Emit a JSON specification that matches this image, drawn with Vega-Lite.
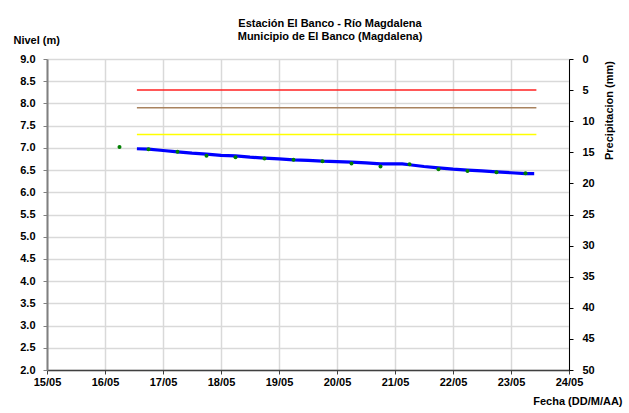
{
  "$schema": "https://vega.github.io/schema/vega-lite/v6.json",
  "width": 522,
  "height": 311,
  "autosize": {"type": "none"},
  "padding": {"left": 47, "top": 59, "right": 60, "bottom": 43},
  "background": "white",
  "config": {"font": "Liberation Sans", "view": {"stroke": null}},
  "title": {
    "text": ["Estación El Banco - Río Magdalena", "Municipio de El Banco (Magdalena)"],
    "font": "Liberation Sans",
    "fontSize": 11,
    "fontWeight": "bold",
    "color": "black",
    "anchor": "middle",
    "frame": "group",
    "dx": 22,
    "offset": -8,
    "lineHeight": 13
  },
  "datasets": {
    "nivel": [
      {"fecha": "2010-05-16T13:12", "nivel": 6.98},
      {"fecha": "2010-05-16T18:00", "nivel": 6.97},
      {"fecha": "2010-05-17T00:00", "nivel": 6.94},
      {"fecha": "2010-05-17T06:00", "nivel": 6.91},
      {"fecha": "2010-05-17T12:00", "nivel": 6.88},
      {"fecha": "2010-05-17T18:00", "nivel": 6.86},
      {"fecha": "2010-05-18T00:00", "nivel": 6.83},
      {"fecha": "2010-05-18T06:00", "nivel": 6.82},
      {"fecha": "2010-05-18T12:00", "nivel": 6.79},
      {"fecha": "2010-05-18T18:00", "nivel": 6.77},
      {"fecha": "2010-05-19T00:00", "nivel": 6.75},
      {"fecha": "2010-05-19T06:00", "nivel": 6.73},
      {"fecha": "2010-05-19T12:00", "nivel": 6.72},
      {"fecha": "2010-05-19T18:00", "nivel": 6.70},
      {"fecha": "2010-05-20T00:00", "nivel": 6.69},
      {"fecha": "2010-05-20T06:00", "nivel": 6.68},
      {"fecha": "2010-05-20T12:00", "nivel": 6.66},
      {"fecha": "2010-05-20T18:00", "nivel": 6.64},
      {"fecha": "2010-05-21T00:00", "nivel": 6.64},
      {"fecha": "2010-05-21T03:00", "nivel": 6.64},
      {"fecha": "2010-05-21T06:00", "nivel": 6.62},
      {"fecha": "2010-05-21T12:00", "nivel": 6.58},
      {"fecha": "2010-05-21T18:00", "nivel": 6.55},
      {"fecha": "2010-05-22T00:00", "nivel": 6.52},
      {"fecha": "2010-05-22T06:00", "nivel": 6.50},
      {"fecha": "2010-05-22T12:00", "nivel": 6.48},
      {"fecha": "2010-05-22T18:00", "nivel": 6.46},
      {"fecha": "2010-05-23T00:00", "nivel": 6.44},
      {"fecha": "2010-05-23T06:00", "nivel": 6.42},
      {"fecha": "2010-05-23T09:36", "nivel": 6.42}
    ],
    "observado": [
      {"fecha": "2010-05-16T06:00", "nivel": 7.02},
      {"fecha": "2010-05-16T18:00", "nivel": 6.97},
      {"fecha": "2010-05-17T06:00", "nivel": 6.91},
      {"fecha": "2010-05-17T18:00", "nivel": 6.82},
      {"fecha": "2010-05-18T06:00", "nivel": 6.79},
      {"fecha": "2010-05-18T18:00", "nivel": 6.76},
      {"fecha": "2010-05-19T06:00", "nivel": 6.73},
      {"fecha": "2010-05-19T18:00", "nivel": 6.70},
      {"fecha": "2010-05-20T06:00", "nivel": 6.65},
      {"fecha": "2010-05-20T18:00", "nivel": 6.58},
      {"fecha": "2010-05-21T06:00", "nivel": 6.63},
      {"fecha": "2010-05-21T18:00", "nivel": 6.52},
      {"fecha": "2010-05-22T06:00", "nivel": 6.48},
      {"fecha": "2010-05-22T18:00", "nivel": 6.45},
      {"fecha": "2010-05-23T06:00", "nivel": 6.43}
    ],
    "umbrales": [
      {"fecha": "2010-05-16T13:12", "fecha_fin": "2010-05-23T10:30", "nivel": 8.3, "umbral": "rojo"},
      {"fecha": "2010-05-16T13:12", "fecha_fin": "2010-05-23T10:30", "nivel": 7.9, "umbral": "naranja"},
      {"fecha": "2010-05-16T13:12", "fecha_fin": "2010-05-23T10:30", "nivel": 7.3, "umbral": "amarillo"}
    ],
    "precipitacion": []
  },
  "layer": [
    {
      "encoding": {
        "x": {
          "field": "fecha",
          "type": "temporal",
          "scale": {"domain": [{"year": 2010, "month": 5, "date": 15}, {"year": 2010, "month": 5, "date": 24}]},
          "axis": {
            "title": "Fecha (DD/M/AA)",
            "format": "%d/%m",
            "tickCount": {"interval": "day", "step": 1},
            "grid": true,
            "gridColor": "#d9d9d9",
            "gridWidth": 1.5,
            "domainColor": "#404040",
            "domainWidth": 1.5,
            "tickColor": "#404040",
            "tickSize": 4,
            "labelFont": "Liberation Sans",
            "labelFontSize": 11,
            "labelFontWeight": "bold",
            "labelColor": "black",
            "labelPadding": 2,
            "labelFlush": false,
            "labelOverlap": false,
            "titleFont": "Liberation Sans",
            "titleFontSize": 11,
            "titleFontWeight": "bold",
            "titleColor": "black",
            "titleAnchor": null,
            "titleAlign": "right",
            "titleBaseline": "middle",
            "titleX": 575,
            "titleY": 31
          }
        },
        "y": {
          "field": "nivel",
          "type": "quantitative",
          "scale": {"domain": [2, 9], "nice": false, "zero": false},
          "axis": {
            "orient": "left",
            "title": "Nivel (m)",
            "values": [2, 2.5, 3, 3.5, 4, 4.5, 5, 5.5, 6, 6.5, 7, 7.5, 8, 8.5, 9],
            "format": ".1f",
            "grid": true,
            "gridColor": "#d9d9d9",
            "gridWidth": 1.5,
            "domainColor": "#808080",
            "domainWidth": 2,
            "tickColor": "#808080",
            "tickSize": 4,
            "labelFont": "Liberation Sans",
            "labelFontSize": 11,
            "labelFontWeight": "bold",
            "labelColor": "black",
            "labelPadding": 8,
            "labelFlush": false,
            "labelOverlap": false,
            "titleFont": "Liberation Sans",
            "titleFontSize": 11,
            "titleFontWeight": "bold",
            "titleColor": "black",
            "titleAngle": 0,
            "titleAnchor": null,
            "titleAlign": "left",
            "titleBaseline": "middle",
            "titleX": -34,
            "titleY": -19
          }
        }
      },
      "layer": [
        {
          "data": {"name": "umbrales"},
          "mark": {"type": "rule", "strokeWidth": 1.5},
          "encoding": {
            "x2": {"field": "fecha_fin"},
            "color": {
              "field": "umbral",
              "type": "nominal",
              "scale": {"domain": ["rojo", "naranja", "amarillo"], "range": ["#ff2020", "#a8825e", "#ffff00"]},
              "legend": null
            }
          }
        },
        {
          "data": {"name": "nivel"},
          "mark": {"type": "line", "color": "#0000ff", "strokeWidth": 3.2, "interpolate": "linear"},
          "encoding": {}
        },
        {
          "data": {"name": "observado"},
          "mark": {"type": "point", "filled": true, "color": "#008000", "size": 16, "opacity": 1},
          "encoding": {}
        }
      ]
    },
    {
      "data": {"name": "precipitacion"},
      "mark": {"type": "rule", "opacity": 0},
      "encoding": {
        "y": {
          "field": "precipitacion",
          "type": "quantitative",
          "scale": {"domain": [0, 50], "reverse": true, "nice": false, "zero": false},
          "axis": {
            "orient": "right",
            "title": "Precipitacion (mm)",
            "values": [0, 5, 10, 15, 20, 25, 30, 35, 40, 45, 50],
            "grid": false,
            "domainColor": "black",
            "domainWidth": 1,
            "tickColor": "black",
            "tickSize": 4,
            "labelFont": "Liberation Sans",
            "labelFontSize": 11,
            "labelFontWeight": "bold",
            "labelColor": "black",
            "labelPadding": 9,
            "labelFlush": false,
            "labelOverlap": false,
            "titleFont": "Liberation Sans",
            "titleFontSize": 11,
            "titleFontWeight": "bold",
            "titleColor": "black",
            "titleAngle": -90,
            "titleAnchor": null,
            "titleAlign": "center",
            "titleBaseline": "middle",
            "titleX": 40,
            "titleY": 51
          }
        }
      }
    }
  ],
  "resolve": {"scale": {"y": "independent"}, "axis": {"y": "independent"}}
}
